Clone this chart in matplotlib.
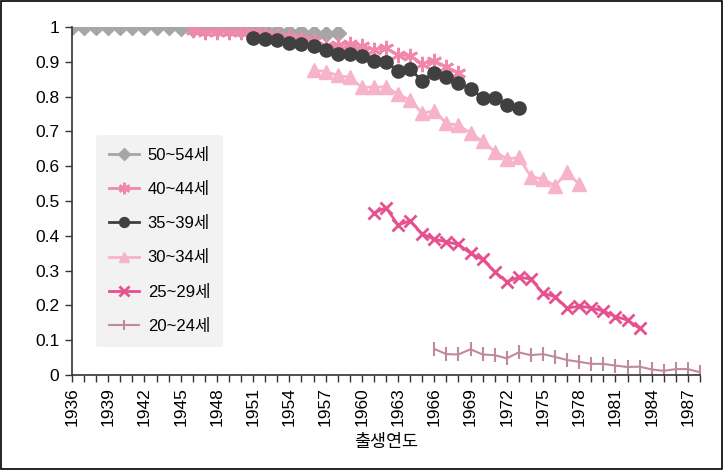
import matplotlib
matplotlib.use("Agg")
import matplotlib.pyplot as plt
from matplotlib.patches import Rectangle

plt.rcParams['font.family'] = ['Liberation Sans', 'Noto Sans CJK KR']

# 출생연도별 연령대 비율 (코호트)
years_50 = list(range(1936, 1959))
vals_50 = [1.0, 1.0, 1.0, 1.0, 1.0, 1.0, 1.0, 1.0, 1.0, 0.998, 0.995, 0.995,
           0.993, 0.993, 0.99, 0.99, 0.99, 0.988, 0.985, 0.985, 0.982, 0.98, 0.982]

years_40 = list(range(1946, 1969))
vals_40 = [0.99, 0.985, 0.985, 0.985, 0.985, 0.985, 0.98, 0.975, 0.97, 0.965,
           0.96, 0.945, 0.948, 0.952, 0.945, 0.935, 0.94, 0.92, 0.917, 0.895,
           0.903, 0.885, 0.868]

years_35 = list(range(1951, 1974))
vals_35 = [0.969, 0.965, 0.963, 0.955, 0.95, 0.946, 0.934, 0.922, 0.921, 0.918,
           0.903, 0.9, 0.874, 0.878, 0.846, 0.869, 0.857, 0.84, 0.822, 0.797,
           0.797, 0.776, 0.767]

years_30 = list(range(1956, 1979))
vals_30 = [0.876, 0.872, 0.861, 0.855, 0.827, 0.827, 0.828, 0.807, 0.79, 0.752,
           0.759, 0.723, 0.718, 0.695, 0.671, 0.642, 0.621, 0.625, 0.57, 0.563,
           0.544, 0.582, 0.548]

years_25 = list(range(1961, 1984))
vals_25 = [0.465, 0.481, 0.431, 0.443, 0.405, 0.39, 0.383, 0.375, 0.35, 0.332,
           0.297, 0.268, 0.281, 0.276, 0.235, 0.225, 0.192, 0.198, 0.193, 0.184,
           0.168, 0.158, 0.134]

years_20 = list(range(1966, 1989))
vals_20 = [0.075, 0.06, 0.059, 0.074, 0.059, 0.057, 0.048, 0.065, 0.057, 0.06,
           0.052, 0.043, 0.038, 0.032, 0.032, 0.027, 0.023, 0.024, 0.016, 0.012,
           0.017, 0.017, 0.008]

labels = ['50~54세', '40~44세', '35~39세', '30~34세', '25~29세', '20~24세']
xtick_years = list(range(1936, 1988, 3))

fig = plt.figure(figsize=(7.24, 4.70), dpi=100)
ax = fig.add_axes([0.0994, 0.2021, 0.8674, 0.7405])

ax.plot(years_50, vals_50, color='#A6A6A6', lw=2, marker='D', ms=8.5,
        mec='#A6A6A6', label=labels[0])
ax.plot(years_40, vals_40, color='#F088AC', lw=2, marker=(6, 2, 0), ms=11,
        mew=2, label=labels[1])
ax.plot(years_35, vals_35, color='#404040', lw=2, marker='o', ms=9.5,
        label=labels[2])
ax.plot(years_30, vals_30, color='#F7B3CB', lw=2, marker='^', ms=10.5,
        label=labels[3])
ax.plot(years_25, vals_25, color='#E6508E', lw=2, marker='x', ms=9,
        mew=2, label=labels[4])
ax.plot(years_20, vals_20, color='#C08A9C', lw=1.5, marker='|', ms=10,
        mew=1.5, label=labels[5])

ax.set_xlim(1936, 1988)
ax.set_ylim(0, 1)
ax.set_yticks([i / 10 for i in range(11)])
ax.set_yticklabels(['0', '0.1', '0.2', '0.3', '0.4', '0.5', '0.6', '0.7',
                    '0.8', '0.9', '1'])
ax.set_xticks(list(range(1936, 1989)), minor=True)
ax.set_xticks(xtick_years)
ax.set_xticklabels([str(y) for y in xtick_years], rotation=90)
ax.tick_params(axis='both', which='both', direction='out', length=5,
               width=1, color='#333333', labelsize=12.5)
ax.tick_params(axis='y', pad=4)

for side in ['top', 'right']:
    ax.spines[side].set_visible(False)
for side in ['left', 'bottom']:
    ax.spines[side].set_color('#333333')
    ax.spines[side].set_linewidth(1.2)

ax.set_xlabel('출생연도', fontsize=12.5, labelpad=6)

leg = ax.legend(loc='upper left', bbox_to_anchor=(0.025, 0.715), fontsize=12,
                frameon=True, facecolor='#F2F2F2', edgecolor='none',
                fancybox=True, handlelength=1.8, labelspacing=1.15,
                borderpad=0.8, handletextpad=0.5, markerscale=0.75)
leg.get_frame().set_alpha(1)

fig.patches.append(Rectangle((0.0014, 0.002), 0.996, 0.995, transform=fig.transFigure,
                             fill=False, edgecolor='#000000', lw=1.2))

fig.savefig('out.png', dpi=100)
